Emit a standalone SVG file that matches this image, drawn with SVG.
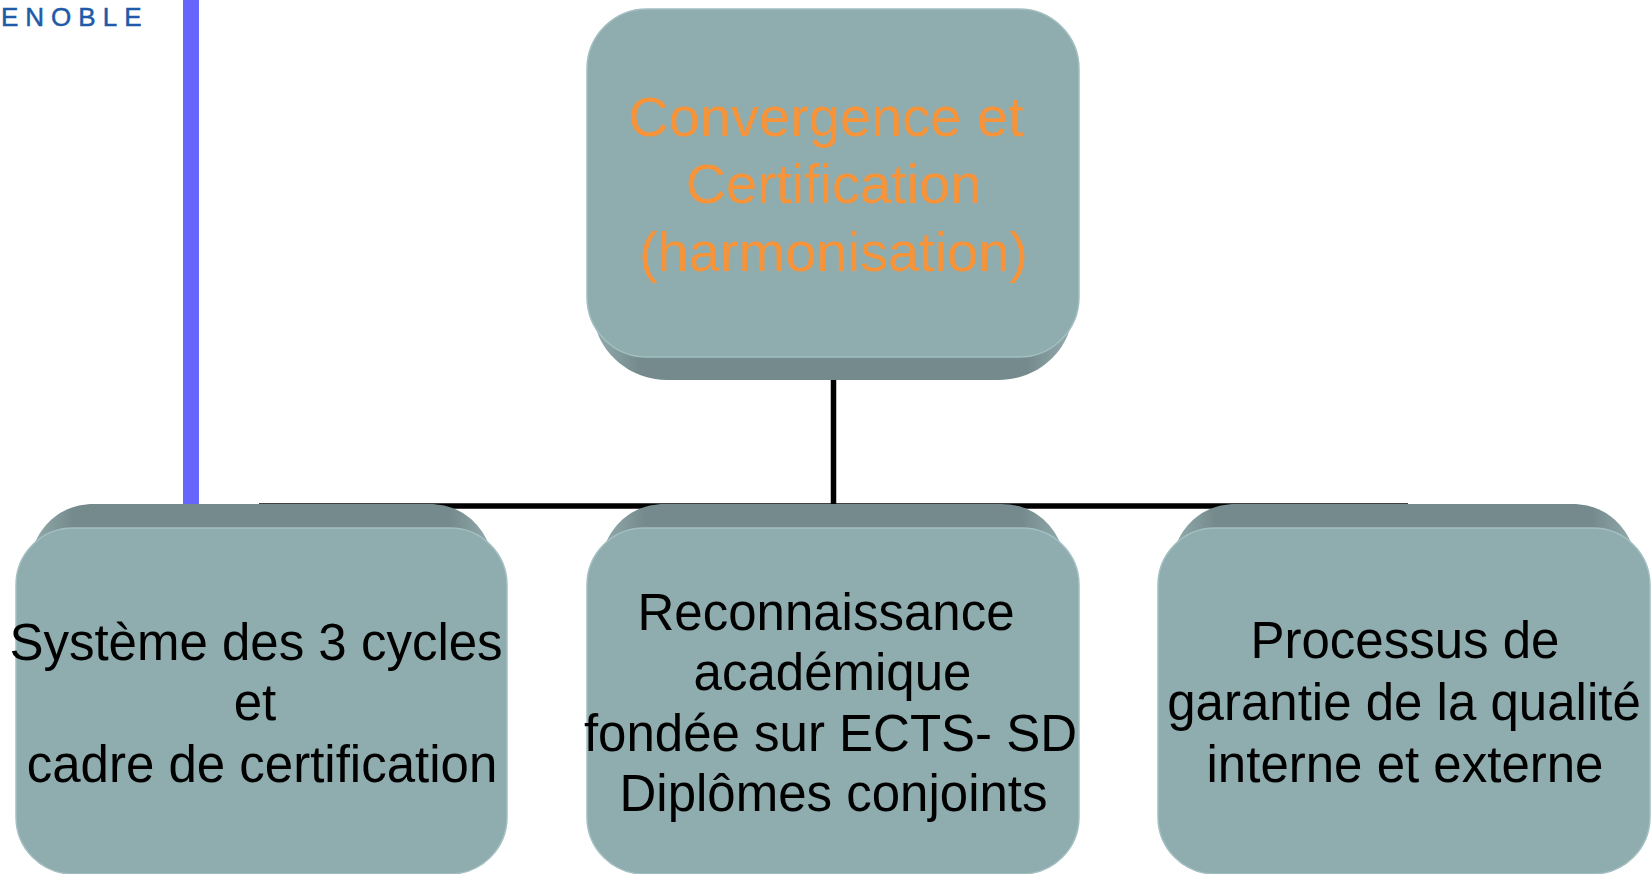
<svg xmlns="http://www.w3.org/2000/svg" width="1651" height="874" viewBox="0 0 1651 874">
<style>
.dark{fill:url(#sideGrad)}
.face{fill:#8FACAE;stroke:#A3BFC1;stroke-width:1.5}
.t{font-family:"Liberation Sans",Arial,sans-serif;font-size:51px;fill:#000;text-anchor:middle}
.tt{font-family:"Liberation Sans",Arial,sans-serif;font-size:56px;fill:#F7943A;text-anchor:middle}
.conn{stroke:#000;stroke-width:5.5;fill:none}
</style>
<defs>
<linearGradient id="sideGrad" x1="0" y1="0" x2="1" y2="0">
<stop offset="0" stop-color="#93ABAD"/>
<stop offset="0.09" stop-color="#748A8C"/>
<stop offset="0.91" stop-color="#748A8C"/>
<stop offset="1" stop-color="#93ABAD"/>
</linearGradient>
</defs>
<rect x="0" y="0" width="1651" height="874" fill="#FFFFFF"/>
<text x="1" y="26" font-family="'Liberation Sans',Arial,sans-serif" font-size="26" letter-spacing="7" fill="#1E5AA8" stroke="#1E5AA8" stroke-width="0.5">ENOBLE</text>
<rect x="183" y="0" width="16" height="504" fill="#6666FF"/>
<g id="connectors">
<line class="conn" x1="833.5" y1="370" x2="833.5" y2="506"/>
<line class="conn" x1="259" y1="506" x2="1408" y2="506"/>
</g>
<g id="node-top">
<path class="dark" d="M596,200 L596,328 C602,352 628,380 668,380 L998,380 C1038,380 1064,352 1070,328 L1070,200 Z"/>
<rect class="face" x="587" y="9" width="492" height="348" rx="60"/>
<text class="tt" x="826" y="136">Convergence et</text>
<text class="tt" x="833.5" y="203">Certification</text>
<text class="tt" x="833.5" y="271">(harmonisation)</text>
</g>
<g id="node-left">
<path class="dark" d="M32,640 L32,550 C40,526 60,504 94,504 L429,504 C463,504 483,526 491,550 L491,640 Z"/>
<rect class="face" x="16" y="528" width="491" height="346" rx="57"/>
<text class="t" x="256" y="660">Système des 3 cycles</text>
<text class="t" x="255" y="720">et</text>
<text class="t" x="262" y="782">cadre de certification</text>
</g>
<g id="node-middle">
<path class="dark" d="M603,640 L603,550 C611,526 631,504 665,504 L1001,504 C1035,504 1055,526 1063,550 L1063,640 Z"/>
<rect class="face" x="587" y="528" width="492" height="346" rx="57"/>
<text class="t" x="826" y="630">Reconnaissance</text>
<text class="t" x="832.5" y="690">académique</text>
<text class="t" x="830.5" y="751">fondée sur ECTS- SD</text>
<text class="t" x="833.5" y="811">Diplômes conjoints</text>
</g>
<g id="node-right">
<path class="dark" d="M1174,640 L1174,550 C1182,526 1202,504 1236,504 L1572,504 C1606,504 1626,526 1634,550 L1634,640 Z"/>
<rect class="face" x="1158" y="528" width="492" height="346" rx="57"/>
<text class="t" x="1405" y="658">Processus de</text>
<text class="t" x="1404" y="720">garantie de la qualité</text>
<text class="t" x="1405" y="782">interne et externe</text>
</g>
</svg>
